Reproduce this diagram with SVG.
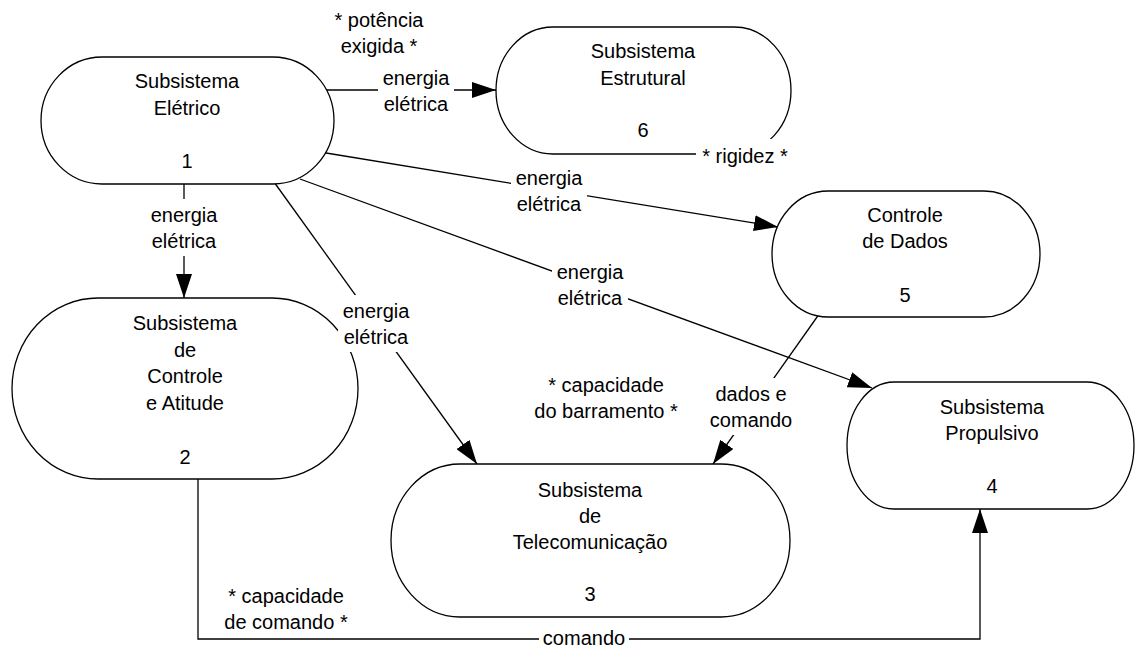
<svg xmlns="http://www.w3.org/2000/svg" width="1136" height="648" viewBox="0 0 1136 648">
<style>
.node{fill:#fff;stroke:#000;stroke-width:1.3}
.line{fill:none;stroke:#000;stroke-width:1.3}
text{font-family:"Liberation Sans",Arial,sans-serif;font-size:20px;fill:#000;text-anchor:middle}
.bg{fill:#fff;stroke:none}
</style>
<defs>
<marker id="arr" markerUnits="userSpaceOnUse" viewBox="0 0 24 16" refX="24" refY="8" markerWidth="24" markerHeight="16" orient="auto">
<path d="M0,0 L24,8 L0,16 z" fill="#000"/>
</marker>
</defs>
<rect width="1136" height="648" fill="#fff"/>
<g id="connectors">
<line class="line" x1="320" y1="90" x2="496" y2="90" marker-end="url(#arr)"/>
<line class="line" x1="320" y1="152" x2="778" y2="227" marker-end="url(#arr)"/>
<line class="line" x1="300" y1="179" x2="872" y2="388" marker-end="url(#arr)"/>
<line class="line" x1="274" y1="182" x2="477" y2="464" marker-end="url(#arr)"/>
<line class="line" x1="184" y1="175" x2="184" y2="298" marker-end="url(#arr)"/>
<line class="line" x1="822" y1="310" x2="713" y2="464" marker-end="url(#arr)"/>
<polyline class="line" points="198,470 198,639 980,639 980,509" marker-end="url(#arr)"/>
</g>
<g id="node1">
<rect class="node" x="41" y="57" width="293" height="127" rx="61" ry="63.5"/>
<text x="187" y="88">Subsistema</text>
<text x="187" y="115">Elétrico</text>
<text x="187" y="168">1</text>
</g>
<g id="node6">
<rect class="node" x="496" y="27" width="295" height="127" rx="57" ry="63.5"/>
<text x="643" y="58">Subsistema</text>
<text x="643" y="85">Estrutural</text>
<text x="643" y="137">6</text>
</g>
<g id="node5">
<rect class="node" x="772" y="191" width="268" height="126" rx="56" ry="63"/>
<text x="905" y="222">Controle</text>
<text x="905" y="248">de Dados</text>
<text x="905" y="302">5</text>
</g>
<g id="node2">
<rect class="node" x="12" y="298" width="346" height="181" rx="86" ry="90.5"/>
<text x="185" y="330">Subsistema</text>
<text x="185" y="357">de</text>
<text x="185" y="383">Controle</text>
<text x="185" y="410">e Atitude</text>
<text x="185" y="464">2</text>
</g>
<g id="node3">
<rect class="node" x="391" y="464" width="399" height="153" rx="69" ry="76.5"/>
<text x="590" y="497">Subsistema</text>
<text x="590" y="523">de</text>
<text x="590" y="549">Telecomunicação</text>
<text x="590" y="601">3</text>
</g>
<g id="node4">
<rect class="node" x="847" y="382" width="287" height="127" rx="47" ry="63.5"/>
<text x="992" y="414">Subsistema</text>
<text x="992" y="440">Propulsivo</text>
<text x="992" y="493">4</text>
</g>
<g id="connector-labels">
<rect class="bg" x="378" y="63" width="76" height="57"/>
<text x="416" y="85">energia</text>
<text x="416" y="111">elétrica</text>
<rect class="bg" x="511" y="162" width="76" height="57"/>
<text x="549" y="185">energia</text>
<text x="549" y="211">elétrica</text>
<rect class="bg" x="552" y="256" width="76" height="57"/>
<text x="590" y="279">energia</text>
<text x="590" y="305">elétrica</text>
<rect class="bg" x="338" y="295" width="76" height="57"/>
<text x="376" y="318">energia</text>
<text x="376" y="344">elétrica</text>
<rect class="bg" x="146" y="199" width="76" height="57"/>
<text x="184" y="222">energia</text>
<text x="184" y="248">elétrica</text>
<rect class="bg" x="707" y="378" width="88" height="57"/>
<text x="751" y="401">dados e</text>
<text x="751" y="427">comando</text>
<rect class="bg" x="539" y="628" width="90" height="20"/>
<text x="584" y="645">comando</text>
<text x="379" y="27">* potência</text>
<text x="379" y="53">exigida *</text>
<rect class="bg" x="696" y="139" width="98" height="32"/>
<text x="745" y="163">* rigidez *</text>
<text x="606" y="392">* capacidade</text>
<text x="606" y="418">do barramento *</text>
<text x="286" y="603">* capacidade</text>
<text x="286" y="629">de comando *</text>
</g>
</svg>
